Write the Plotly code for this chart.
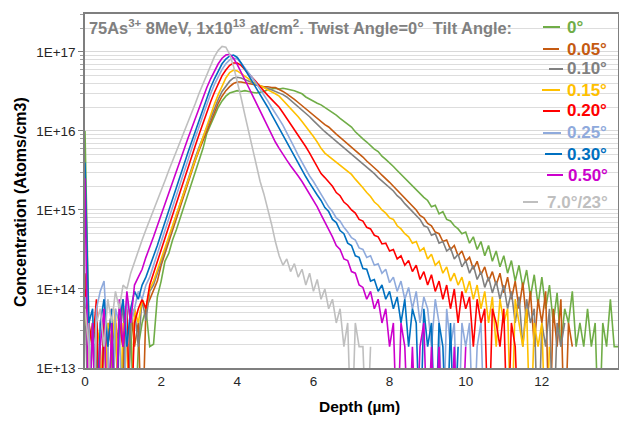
#!/usr/bin/env python3
"""As implant depth profiles vs tilt angle - plotly recreation."""

import plotly.graph_objects as go

# depth grid (um), 0.1 um step
DEPTH = [round(i * 0.1, 1) for i in range(141)]

# log10(concentration); 12.0 = zero count (below axis)
LOG_TILT_0 = [
    16.0, 13.57, 12, 13.27, 12, 13.57, 12, 13.27, 13.57, 12,
    13.27, 12, 13.57, 12, 13.27, 13.57, 13.75, 13.27, 13.3, 13.9,
    14.1, 14.35, 14.45, 14.62, 14.75, 14.9, 15.05, 15.2, 15.35, 15.5,
    15.63, 15.78, 15.97, 16.08, 16.2, 16.3, 16.38, 16.44, 16.48, 16.5,
    16.51, 16.5, 16.51, 16.5, 16.49, 16.48, 16.49, 16.5, 16.52, 16.53,
    16.54, 16.53, 16.54, 16.53, 16.52, 16.51, 16.49, 16.47, 16.43, 16.4,
    16.37, 16.35, 16.33, 16.3, 16.27, 16.24, 16.2, 16.16, 16.12, 16.09,
    16.05, 15.99, 15.94, 15.9, 15.86, 15.81, 15.77, 15.74, 15.68, 15.64,
    15.6, 15.55, 15.5, 15.45, 15.4, 15.36, 15.3, 15.26, 15.2, 15.16,
    15.12, 15.04, 15.06, 14.95, 14.98, 14.88, 14.86, 14.8, 14.76, 14.7,
    14.72, 14.58, 14.66, 14.5, 14.6, 14.42, 14.55, 14.35, 14.48, 14.28,
    14.42, 14.2, 14.36, 14.1, 14.3, 14.02, 14.24, 13.9, 14.18, 13.8,
    14.15, 13.75, 14.05, 13.57, 13.95, 13.27, 13.75, 13.57, 13.97, 13.27,
    13.57, 13.27, 13.75, 13.27, 13.57, 12, 13.57, 13.27, 13.87, 13.27,
    13.27,
]
LOG_TILT_005 = [
    14.2, 13.27, 13.57, 12, 13.27, 12, 13.57, 13.27, 12, 13.57,
    13.27, 12, 13.75, 13.27, 13.57, 12, 13.75, 13.87, 14.0, 14.1,
    14.3, 14.45, 14.6, 14.75, 14.9, 15.05, 15.2, 15.35, 15.5, 15.63,
    15.76, 15.88, 16.0, 16.12, 16.25, 16.35, 16.44, 16.51, 16.56, 16.6,
    16.62, 16.62, 16.61, 16.6, 16.59, 16.58, 16.57, 16.56, 16.56, 16.55,
    16.55, 16.53, 16.5, 16.47, 16.44, 16.4, 16.36, 16.32, 16.28, 16.23,
    16.19, 16.15, 16.11, 16.08, 16.05, 16.0, 15.96, 15.92, 15.88, 15.84,
    15.8, 15.76, 15.71, 15.67, 15.62, 15.58, 15.54, 15.49, 15.44, 15.4,
    15.35, 15.3, 15.25, 15.2, 15.15, 15.1, 15.05, 15.0, 14.93, 14.9,
    14.83, 14.8, 14.72, 14.7, 14.6, 14.62, 14.5, 14.55, 14.42, 14.48,
    14.35, 14.4, 14.25, 14.35, 14.18, 14.28, 14.1, 14.22, 14.05, 14.2,
    13.95, 14.15, 13.87, 14.1, 13.75, 14.08, 13.57, 13.97, 13.27, 13.87,
    13.57, 13.97, 12, 13.75, 13.27, 13.87, 12, 13.57, 13.27,
]
LOG_TILT_010 = [
    13.9, 12, 13.57, 13.27, 12, 13.75, 13.27, 12, 13.57, 13.27,
    13.87, 12, 13.57, 13.75, 13.27, 13.87, 13.6, 13.97, 14.05, 14.2,
    14.35, 14.5, 14.64, 14.8, 14.95, 15.1, 15.25, 15.4, 15.54, 15.67,
    15.8, 15.92, 16.04, 16.16, 16.3, 16.4, 16.5, 16.57, 16.63, 16.67,
    16.68, 16.67, 16.65, 16.62, 16.6, 16.58, 16.57, 16.55, 16.54, 16.52,
    16.51, 16.49, 16.46, 16.43, 16.39, 16.35, 16.31, 16.27, 16.22, 16.18,
    16.13, 16.08, 16.04, 15.99, 15.95, 15.91, 15.87, 15.83, 15.79, 15.75,
    15.71, 15.67, 15.63, 15.59, 15.55, 15.5, 15.46, 15.41, 15.37, 15.33,
    15.29, 15.24, 15.18, 15.14, 15.08, 15.03, 14.98, 14.92, 14.88, 14.8,
    14.78, 14.68, 14.7, 14.58, 14.6, 14.48, 14.52, 14.38, 14.44, 14.28,
    14.36, 14.2, 14.3, 14.12, 14.22, 14.02, 14.15, 13.95, 14.1, 13.87,
    14.05, 13.75, 13.97, 13.57, 13.9, 13.27, 13.87, 13.57, 13.75, 12,
    13.57, 13.27, 13.75, 12, 13.57, 13.27, 13.57,
]
LOG_TILT_015 = [
    13.75, 13.27, 12, 13.57, 13.27, 12, 13.57, 13.27, 13.75, 12,
    13.57, 13.27, 12, 13.75, 13.57, 13.87, 13.75, 14.0, 14.1, 14.25,
    14.38, 14.52, 14.66, 14.8, 14.95, 15.1, 15.24, 15.38, 15.52, 15.66,
    15.79, 15.93, 16.06, 16.2, 16.34, 16.46, 16.57, 16.67, 16.74, 16.77,
    16.76, 16.73, 16.7, 16.66, 16.62, 16.6, 16.57, 16.55, 16.52, 16.5,
    16.47, 16.44, 16.39, 16.34, 16.28, 16.23, 16.18, 16.12, 16.06, 15.99,
    15.93, 15.86, 15.78, 15.72, 15.68, 15.64, 15.6, 15.56, 15.53, 15.49,
    15.45, 15.39, 15.34, 15.28, 15.22, 15.17, 15.1, 15.06, 15.0, 14.96,
    14.9, 14.88, 14.8, 14.76, 14.7, 14.66, 14.58, 14.6, 14.48, 14.52,
    14.38, 14.44, 14.3, 14.35, 14.2, 14.28, 14.1, 14.2, 14.05, 14.15,
    13.95, 14.1, 13.87, 14.05, 13.75, 13.97, 13.57, 13.9, 13.27, 13.87,
    13.57, 13.75, 12, 13.87, 13.57, 13.27, 13.75, 12, 13.57, 13.27,
    13.57, 12, 13.27,
]
LOG_TILT_020 = [
    14.0, 13.57, 13.27, 13.87, 12, 13.57, 13.27, 13.75, 12, 13.57,
    13.27, 13.75, 12, 13.57, 13.75, 13.87, 13.75, 14.05, 14.2, 14.35,
    14.5, 14.65, 14.8, 14.95, 15.1, 15.25, 15.4, 15.54, 15.68, 15.82,
    15.96, 16.1, 16.24, 16.37, 16.49, 16.6, 16.7, 16.77, 16.83, 16.86,
    16.86, 16.83, 16.78, 16.72, 16.67, 16.62, 16.56, 16.5, 16.45, 16.4,
    16.35, 16.3, 16.23, 16.16, 16.09, 16.02, 15.95, 15.88, 15.8, 15.72,
    15.63, 15.55, 15.46, 15.41, 15.35, 15.3, 15.22, 15.18, 15.1, 15.06,
    15.0, 14.96, 14.88, 14.86, 14.78, 14.76, 14.68, 14.66, 14.57, 14.58,
    14.48, 14.5, 14.38, 14.42, 14.3, 14.36, 14.22, 14.3, 14.12, 14.22,
    14.05, 14.18, 13.97, 14.1, 13.87, 14.05, 13.75, 14.0, 13.57, 13.97,
    13.75, 13.9, 13.27, 13.87, 13.57, 13.75, 12, 13.75, 13.57, 13.27,
    13.75, 12, 13.57, 13.27, 12,
]
LOG_TILT_025 = [
    13.9, 13.57, 12, 13.75, 13.97, 14.1, 13.27, 12, 13.75, 13.57,
    12, 13.87, 13.57, 13.75, 13.97, 13.87, 14.05, 14.15, 14.3, 14.45,
    14.6, 14.75, 14.9, 15.05, 15.2, 15.35, 15.5, 15.64, 15.78, 15.92,
    16.06, 16.2, 16.34, 16.47, 16.59, 16.69, 16.78, 16.85, 16.9, 16.92,
    16.91, 16.86, 16.8, 16.73, 16.67, 16.6, 16.53, 16.45, 16.38, 16.3,
    16.23, 16.15, 16.07, 15.98, 15.89, 15.79, 15.69, 15.6, 15.52, 15.43,
    15.36, 15.28, 15.2, 15.12, 15.04, 14.98, 14.9, 14.86, 14.78, 14.72,
    14.65, 14.62, 14.52, 14.5, 14.4, 14.42, 14.3, 14.32, 14.2, 14.25,
    14.08, 14.15, 13.97, 14.1, 13.87, 14.02, 13.75, 13.97, 13.57, 13.9,
    13.75, 13.27, 13.87, 13.57, 12, 13.75, 13.27, 13.57, 12, 13.57,
    13.27, 13.57, 12, 13.27, 13.57, 12,
]
LOG_TILT_030 = [
    15.6, 13.57, 13.75, 12, 13.57, 13.87, 13.27, 13.75, 12, 13.57,
    13.87, 13.27, 13.75, 13.97, 13.87, 14.05, 14.15, 14.28, 14.42, 14.55,
    14.7, 14.85, 15.0, 15.15, 15.3, 15.45, 15.58, 15.72, 15.86, 16.0,
    16.14, 16.28, 16.42, 16.55, 16.66, 16.76, 16.85, 16.91, 16.95, 16.96,
    16.93, 16.86, 16.78, 16.7, 16.63, 16.55, 16.47, 16.39, 16.3, 16.21,
    16.12, 16.03, 15.94, 15.85, 15.76, 15.67, 15.58, 15.5, 15.42, 15.34,
    15.26, 15.19, 15.12, 15.03, 14.98, 14.88, 14.84, 14.74, 14.7, 14.58,
    14.55, 14.42, 14.4, 14.26, 14.25, 14.1, 14.12, 13.97, 14.05, 13.87,
    13.97, 13.75, 13.9, 13.57, 13.87, 13.27, 13.75, 13.57, 12, 13.75,
    13.27, 13.57, 12, 13.57, 13.27, 12, 13.57, 12, 13.27,
]
LOG_TILT_050 = [
    15.4, 12, 13.57, 12, 13.27, 13.75, 12, 13.57, 12, 13.87,
    13.27, 13.97, 13.57, 14.05, 14.15, 14.25, 14.4, 14.52, 14.66, 14.8,
    14.94, 15.08, 15.22, 15.36, 15.5, 15.64, 15.78, 15.9, 16.03, 16.16,
    16.3, 16.43, 16.55, 16.66, 16.76, 16.85, 16.92, 16.96, 16.97, 16.92,
    16.84, 16.75, 16.65, 16.55, 16.45, 16.35, 16.25, 16.15, 16.05, 15.95,
    15.86, 15.78, 15.7, 15.63, 15.56, 15.5, 15.43, 15.36, 15.28, 15.2,
    15.12, 15.04, 14.94, 14.85, 14.74, 14.66, 14.55, 14.5, 14.38, 14.36,
    14.22, 14.2, 14.05, 14.02, 13.87, 13.97, 13.75, 13.87, 13.57, 13.75,
    13.27, 13.57, 12, 13.57, 13.27, 12, 13.27, 12, 13.27, 13.57,
    12, 13.27, 12, 13.27, 12, 12, 12, 13.27, 12, 12,
    13.27,
]
LOG_TILT_7 = [
    13.75, 13.27, 12, 13.57, 13.75, 13.27, 13.87, 13.57, 13.97, 13.75,
    14.05, 14.0, 14.2, 14.35, 14.5, 14.62, 14.75, 14.87, 15.0, 15.12,
    15.25, 15.37, 15.5, 15.62, 15.74, 15.86, 15.97, 16.1, 16.22, 16.35,
    16.48, 16.6, 16.72, 16.84, 16.94, 17.02, 17.07, 17.06, 16.97, 16.82,
    16.63, 16.42, 16.2, 15.98, 15.76, 15.55, 15.36, 15.2, 15.02, 14.82,
    14.6, 14.42, 14.3, 14.38, 14.22, 14.32, 14.15, 14.25, 14.05, 14.2,
    13.97, 14.12, 13.87, 14.0, 13.75, 13.87, 13.57, 13.75, 13.27, 13.57,
    12, 13.57, 13.27, 13.27, 12, 13.27,
]

SERIES = [
    ("0°", LOG_TILT_0, "#70AD47"),
    ("0.05°", LOG_TILT_005, "#C55A11"),
    ("0.10°", LOG_TILT_010, "#808080"),
    ("0.15°", LOG_TILT_015, "#FFC000"),
    ("0.20°", LOG_TILT_020, "#FF0000"),
    ("0.25°", LOG_TILT_025, "#8FAADC"),
    ("0.30°", LOG_TILT_030, "#0070C0"),
    ("0.50°", LOG_TILT_050, "#CC00CC"),
    ("7.0°/23°", LOG_TILT_7, "#BFBFBF"),
]

Y_MAJOR = [1e13, 1e14, 1e15, 1e16, 1e17]
Y_MAJOR_TEXT = ["1E+13", "1E+14", "1E+15", "1E+16", "1E+17"]
Y_MINOR = [k * 10.0 ** n for n in range(13, 18) for k in range(2, 10) if k * 10.0 ** n < 3.1e17]

FONT = "Arial, Liberation Sans, sans-serif"

fig = go.Figure()
for name, vals, color in SERIES:
    fig.add_trace(
        go.Scatter(
            x=DEPTH[: len(vals)],
            y=[10.0 ** v for v in vals],
            mode="lines",
            name=name,
            line=dict(color=color, width=1.6),
            showlegend=False,
        )
    )

# the page body keeps an 8px margin, so the figure sits at (8, 8) in the window
OFF = 8
FIG_W, FIG_H = 611, 407
# plot area in window px: left 85, right 618, top 14, bottom 368
PL, PR, PT, PB = 85, 618, 14, 368


def px_x(x):
    return (x - PL) / (PR - PL)


def px_y(y):
    return (PB - y) / (PB - PT)


annotations = [
    dict(
        text="75As<sup>3+</sup> 8MeV, 1x10<sup>13</sup> at/cm<sup>2</sup>. Twist Angle=0°  Tilt Angle:",
        x=px_x(87), y=px_y(27), xref="paper", yref="paper",
        xanchor="left", yanchor="middle", showarrow=False,
        font=dict(family=FONT, size=16.4, color="#808080", weight="bold"),
    ),
    dict(
        text="<b>Depth (µm)</b>", x=px_x(359), y=px_y(406), xref="paper", yref="paper",
        xanchor="center", yanchor="middle", showarrow=False,
        font=dict(family=FONT, size=15.5, color="#000000"),
    ),
    dict(
        text="<b>Concentration (Atoms/cm3)</b>", x=px_x(20), y=px_y(202), xref="paper", yref="paper",
        xanchor="center", yanchor="middle", showarrow=False, textangle=-90,
        font=dict(family=FONT, size=16, color="#000000"),
    ),
]

# legend: (label y center, line x0, line x1, text x) in window px
LEG_POS = [
    (27, 543, 560, 565), (49, 543, 559, 565), (69, 549, 563, 565),
    (90, 542, 560, 565), (111, 543, 560, 565), (133, 543, 561, 565),
    (154, 545, 562, 565), (175, 547, 563, 566), (202, 523, 538, 545),
]
shapes = []
for (name, _, color), (ly, lx0, lx1, tx) in zip(SERIES, LEG_POS):
    annotations.append(
        dict(
            text=name, x=px_x(tx), y=px_y(ly), xref="paper", yref="paper",
            xanchor="left", yanchor="middle", showarrow=False,
            font=dict(family=FONT, size=17, color=color, weight="bold"),
        )
    )
    shapes.append(
        dict(
            type="line", xref="paper", yref="paper",
            x0=px_x(lx0), x1=px_x(lx1), y0=px_y(ly), y1=px_y(ly),
            line=dict(color=color, width=2),
        )
    )

fig.update_layout(
    width=FIG_W,
    height=FIG_H,
    margin=dict(
        l=PL - OFF, r=FIG_W - (PR - OFF), t=PT - OFF, b=FIG_H - (PB - OFF),
        autoexpand=False,
    ),
    paper_bgcolor="white",
    plot_bgcolor="white",
    annotations=annotations,
    shapes=shapes,
    showlegend=False,
)
fig.update_xaxes(
    range=[0, 14],
    tickvals=[0, 2, 4, 6, 8, 10, 12, 14],
    showgrid=False,
    zeroline=False,
    showline=True,
    mirror=True,
    linecolor="#7F7F7F",
    linewidth=1.5,
    ticks="",
    tickfont=dict(family=FONT, size=13.5, color="#262626"),
)
fig.update_yaxes(
    type="log",
    range=[13, 17.48],
    tickvals=Y_MAJOR,
    ticktext=Y_MAJOR_TEXT,
    showgrid=True,
    gridcolor="#D9D9D9",
    gridwidth=1,
    zeroline=False,
    showline=True,
    mirror=True,
    linecolor="#7F7F7F",
    linewidth=1.5,
    ticks="outside",
    ticklen=5,
    tickcolor="#7F7F7F",
    tickfont=dict(family=FONT, size=13.5, color="#262626"),
    minor=dict(
        tickvals=Y_MINOR,
        showgrid=True,
        gridcolor="#DDDDDD",
        gridwidth=1,
        ticks="outside",
        ticklen=3,
        tickcolor="#9F9F9F",
    ),
)

fig.write_html("out.html")
